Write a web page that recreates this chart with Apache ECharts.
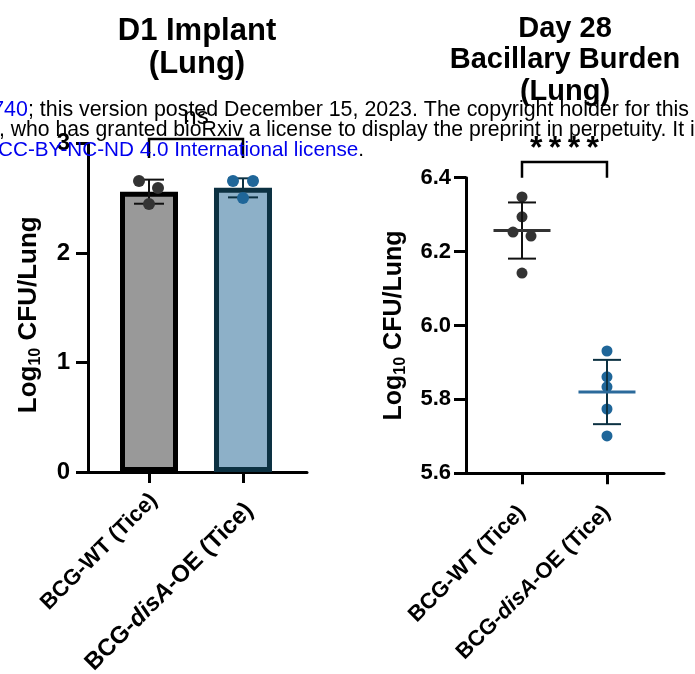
<!DOCTYPE html>
<html>
<head>
<meta charset="utf-8">
<script src="https://cdn.jsdelivr.net/npm/echarts@6/dist/echarts.min.js"></script>
<style>
html,body{margin:0;padding:0;background:#fff;}
#c{width:695px;height:674px;}
</style>
</head>
<body>
<div id="c"></div>
<script>
// ---------- data ----------
var categories = ['BCG-WT (Tice)', 'BCG-disA-OE (Tice)'];
// D1 implant (bar chart)
var d1Mean = [2.56, 2.595];
var d1SD = [0.11, 0.087];
var d1WT = [2.657, 2.594, 2.447];
var d1OE = [2.657, 2.657, 2.502];
var d1Ticks = [0, 1, 2, 3];
// Day 28 (scatter dot plot)
var d28Mean = [6.257, 5.820];
var d28SD = [0.076, 0.087];
var d28WT = [6.348, 6.294, 6.253, 6.242, 6.142];
var d28OE = [5.931, 5.861, 5.834, 5.774, 5.701];
var d28Ticks = [5.6, 5.8, 6.0, 6.2, 6.4];
// significance annotations
var d1Sig = ['ns'];
var d28Sig = ['****'];

// ---------- styles ----------
var FF = '"Liberation Sans", Arial, Helvetica, sans-serif';
var jitD1WT = [-10, 9, 0];
var jitD1OE = [-10, 10, 0];
var jitD28WT = [0, 0, -9, 9, 0];
var jitD28OE = [0, 0, 0, 0, 0];
var barFill = ['#999999', '#8db0c8'];
var barBorder = ['#000000', '#0c3142'];
var dotColor = ['#333333', '#1f6699'];
var errColor = ['#111111', '#0c3142'];
var meanColor = ['#333333', '#2b6a9b'];

function dotsAt(idx, vals, jit) {
  return vals.map(function (v, i) { return { value: [idx, v], symbolOffset: [jit[i], 0] }; });
}

function errRender(capHalf, meanHalf) {
  return function (params, api) {
    var x = api.value(0), m = api.value(1), s = api.value(2);
    var t = api.coord([x, m + s]), b = api.coord([x, m - s]), c = api.coord([x, m]);
    var col = errColor[params.dataIndex];
    var kids = [
      { type: 'line', shape: { x1: t[0], y1: t[1], x2: b[0], y2: b[1] }, style: { stroke: col, lineWidth: 2 } },
      { type: 'line', shape: { x1: t[0] - capHalf, y1: t[1], x2: t[0] + capHalf, y2: t[1] }, style: { stroke: col, lineWidth: 2 } },
      { type: 'line', shape: { x1: b[0] - capHalf, y1: b[1], x2: b[0] + capHalf, y2: b[1] }, style: { stroke: col, lineWidth: 2 } }
    ];
    if (meanHalf) {
      kids.push({ type: 'line', shape: { x1: c[0] - meanHalf, y1: c[1], x2: c[0] + meanHalf, y2: c[1] }, style: { stroke: meanColor[params.dataIndex], lineWidth: 3 } });
    }
    return { type: 'group', children: kids };
  };
}

function bracketRender(textOffset, font) {
  return function (params, api) {
    var p0 = api.coord([api.value(0), api.value(2)]);
    var p1 = api.coord([api.value(1), api.value(2)]);
    var l0 = api.coord([api.value(0), api.value(3)]);
    var txt = api.value(4);
    return { type: 'group', children: [
      { type: 'polyline', shape: { points: [[l0[0], l0[1]], [p0[0], p0[1]], [p1[0], p1[1]], [p1[0], l0[1]]] }, style: { stroke: '#000', lineWidth: 2.5, fill: null } },
      { type: 'text', x: (p0[0] + p1[0]) / 2, y: p0[1] - textOffset, style: { text: txt, align: 'center', verticalAlign: 'middle', font: font, fill: '#000' } }
    ] };
  };
}

function tok(fs, pad, italic) {
  return { fontFamily: FF, fontWeight: 'bold', fontStyle: italic ? 'italic' : 'normal', fontSize: fs, color: '#000', padding: pad };
}

// left chart labels: individually tuned rich styles
var leftRich = {
  a: tok(22, [14, 0, 0, 0], false),
  b: tok(24, [30, 0, 0, 0], false),
  bi: tok(24, [30, 0, 0, 0], true),
  bl: tok(24, [30, 6, 0, 0], false)
};
function leftLabel(v) {
  var i = Math.round(v);
  var s = categories[i];
  if (s.indexOf('disA') < 0) return '{a|' + s + '}';
  var parts = s.split('disA');
  return '{b|' + parts[0] + '}{bi|disA}{bl|' + parts[1] + '}';
}
var rightRich = { i: tok(22, [0, 0, 0, 0], true) };
function rightLabel(v) {
  return categories[Math.round(v)].replace('disA', '{i|disA}');
}

function xAxisCfg(grid, min, max, margin, fs, fmt, rich) {
  return {
    type: 'value', gridIndex: grid, min: min, max: max,
    axisLine: { show: true, onZero: false, lineStyle: { color: '#000', width: 3 } },
    axisTick: { show: true, customValues: [0, 1], length: 11, lineStyle: { color: '#000', width: 3 } },
    axisLabel: {
      customValues: [0, 1], rotate: 45, margin: margin, color: '#000',
      fontFamily: FF, fontWeight: 'bold', fontSize: fs,
      formatter: fmt, rich: rich
    },
    splitLine: { show: false }
  };
}

function yAxisCfg(grid, ticks, interval, labelFs, labelMargin, nameFs, nameGap, namePad, fixed) {
  return {
    type: 'value', gridIndex: grid, min: ticks[0], max: ticks[ticks.length - 1], interval: interval,
    axisLine: { show: true, onZero: false, lineStyle: { color: '#000', width: 3 } },
    axisTick: { show: true, length: 12, lineStyle: { color: '#000', width: 3 } },
    axisLabel: { color: '#000', fontFamily: FF, fontWeight: 'bold', fontSize: labelFs, margin: labelMargin,
      formatter: function (v) { return fixed ? v.toFixed(1) : String(v); } },
    splitLine: { show: false },
    name: '{a|Log}{s|10}{a| CFU/Lung}',
    nameLocation: 'middle', nameGap: nameGap, nameRotate: 90,
    nameTextStyle: {
      padding: namePad,
      rich: {
        a: { fontFamily: FF, fontWeight: 'bold', fontSize: nameFs, color: '#000', lineHeight: nameFs + 4 },
        s: { fontFamily: FF, fontWeight: 'bold', fontSize: Math.round(nameFs * 0.62), color: '#000', verticalAlign: 'bottom', lineHeight: Math.round(nameFs * 0.55) }
      }
    }
  };
}

var chart = echarts.init(document.getElementById('c'), null, { renderer: 'canvas' });

var option = {
  backgroundColor: '#ffffff',
  animation: false,
  grid: [
    { left: 88, right: 388, top: 143.5, bottom: 202, containLabel: false, outerBoundsMode: 'none' },
    { left: 466, right: 31, top: 177.7, bottom: 200.7, containLabel: false, outerBoundsMode: 'none' }
  ],
  xAxis: [
    xAxisCfg(0, -0.649, 1.681, 20, 22, leftLabel, leftRich),
    xAxisCfg(1, -0.659, 1.671, 36, 22, rightLabel, rightRich)
  ],
  yAxis: [
    yAxisCfg(0, d1Ticks, 1, 24, 18, 26, 44, [0, 14, 0, 0], false),
    yAxisCfg(1, d28Ticks, 0.2, 22, 15, 25, 57, [0, 0, 0, 0], true)
  ],
  series: [
    {
      type: 'bar', xAxisIndex: 0, yAxisIndex: 0, barWidth: 58, z: 2,
      data: d1Mean.map(function (m, i) {
        return { value: [i, m], itemStyle: { color: barFill[i], borderColor: barBorder[i], borderWidth: 5 } };
      })
    },
    {
      type: 'custom', xAxisIndex: 0, yAxisIndex: 0, z: 4, clip: false,
      renderItem: errRender(15, 0),
      data: d1Mean.map(function (m, i) { return [i, m, d1SD[i]]; })
    },
    { type: 'scatter', xAxisIndex: 0, yAxisIndex: 0, z: 5, symbolSize: 12, itemStyle: { color: dotColor[0], opacity: 1 }, data: dotsAt(0, d1WT, jitD1WT) },
    { type: 'scatter', xAxisIndex: 0, yAxisIndex: 0, z: 5, symbolSize: 12, itemStyle: { color: dotColor[1], opacity: 1 }, data: dotsAt(1, d1OE, jitD1OE) },
    {
      type: 'custom', xAxisIndex: 0, yAxisIndex: 0, z: 6, clip: false,
      renderItem: bracketRender(22, 'normal 24px ' + FF),
      data: [[0, 1, 3.04, 2.868, d1Sig[0]]]
    },
    { type: 'scatter', xAxisIndex: 1, yAxisIndex: 1, z: 3, symbolSize: 11, itemStyle: { color: dotColor[0], opacity: 1 }, data: dotsAt(0, d28WT, jitD28WT) },
    { type: 'scatter', xAxisIndex: 1, yAxisIndex: 1, z: 3, symbolSize: 11, itemStyle: { color: dotColor[1], opacity: 1 }, data: dotsAt(1, d28OE, jitD28OE) },
    {
      type: 'custom', xAxisIndex: 1, yAxisIndex: 1, z: 4, clip: false,
      renderItem: errRender(14, 28.5),
      data: d28Mean.map(function (m, i) { return [i, m, d28SD[i]]; })
    },
    {
      type: 'custom', xAxisIndex: 1, yAxisIndex: 1, z: 6, clip: false,
      renderItem: bracketRender(13, 'bold 32px ' + FF),
      data: [[0, 1, 6.4425, 6.4, d28Sig[0].split('').join('\u2009')]]
    }
  ],
  graphic: [
    { type: 'text', x: 197, y: 14.5, z: 10, style: { text: 'D1 Implant\n(Lung)', align: 'center', verticalAlign: 'top', fontFamily: FF, fontWeight: 'bold', fontSize: 31, lineHeight: 33, fill: '#000' } },
    { type: 'text', x: 565, y: 13, z: 10, style: { text: 'Day 28\nBacillary Burden\n(Lung)', align: 'center', verticalAlign: 'top', fontFamily: FF, fontWeight: 'bold', fontSize: 29, lineHeight: 31.6, fill: '#000' } },
    { type: 'text', x: 689, y: 110, z: 20, style: { text: '{b|740}; this version posted December 15, 2023. The copyright holder for this', align: 'right', verticalAlign: 'middle', fontFamily: FF, fontSize: 21.4, fill: '#000', rich: { b: { fontFamily: FF, fontSize: 21.4, fill: '#0000ee' } } } },
    { type: 'text', x: -1, y: 130, z: 20, style: { text: ', who has granted bioRxiv a license to display the preprint in perpetuity. It is made', align: 'left', verticalAlign: 'middle', fontFamily: FF, fontSize: 21.2, fill: '#000' } },
    { type: 'text', x: -2, y: 150, z: 20, style: { text: '{b|CC-BY-NC-ND 4.0 International license}.', align: 'left', verticalAlign: 'middle', fontFamily: FF, fontSize: 20.7, fill: '#000', rich: { b: { fontFamily: FF, fontSize: 20.7, fill: '#0000ee' } } } }
  ]
};
chart.setOption(option);
</script>
</body>
</html>
